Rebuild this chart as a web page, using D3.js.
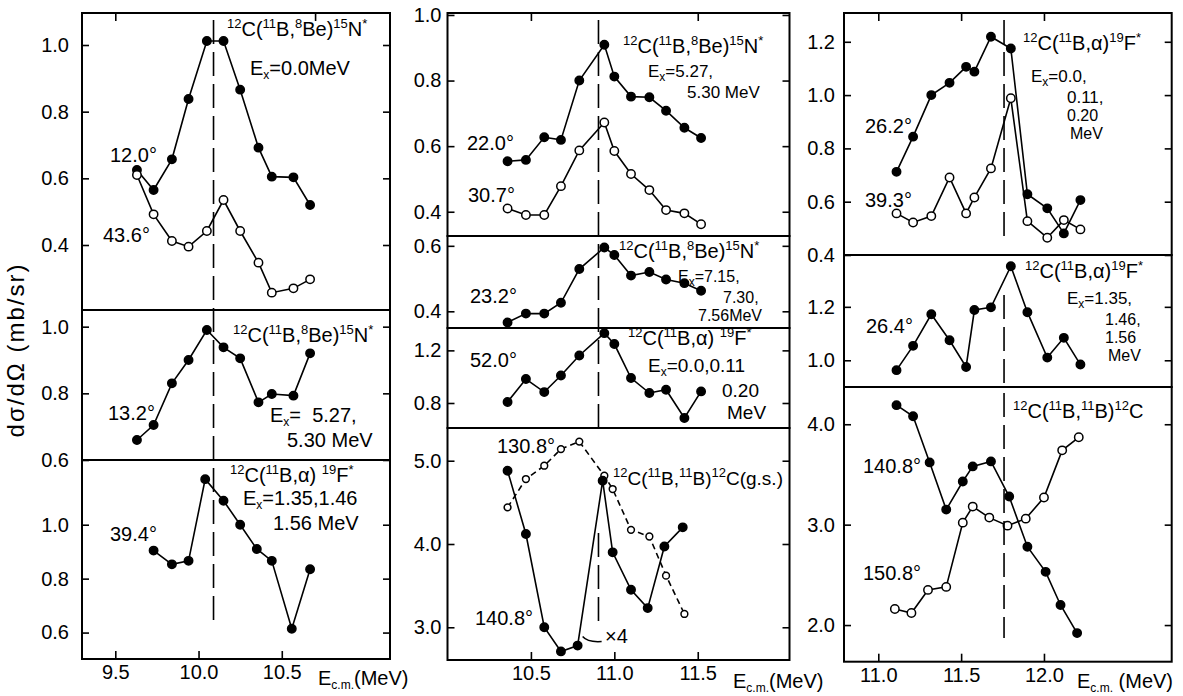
<!DOCTYPE html>
<html>
<head>
<meta charset="utf-8">
<script src="https://cdn.jsdelivr.net/npm/d3@7"></script>
<style>
  body { margin: 0; background: #fff; }
  text { font-family: "Liberation Sans", Arial, sans-serif; white-space: pre; fill: #000; }
</style>
</head>
<body>
<svg width="1183" height="696"></svg>
<script>
// ---- data (E c.m. in MeV, dsigma/dOmega in mb/sr) ----
var eLeft = [9.63, 9.73, 9.84, 9.94, 10.05, 10.15, 10.25, 10.36, 10.44, 10.57, 10.67];
var left12 = [0.625, 0.565, 0.657, 0.838, 1.012, 1.012, 0.866, 0.692, 0.605, 0.603, 0.52];
var left43 = [0.61, 0.492, 0.412, 0.395, 0.442, 0.535, 0.442, 0.347, 0.257, 0.27, 0.297];
var left13 = [0.66, 0.705, 0.83, 0.9, 0.99, 0.938, 0.905, 0.773, 0.798, 0.793, 0.92];
var eLeft3 = [9.73, 9.84, 9.94, 10.04, 10.15, 10.25, 10.35, 10.44, 10.56, 10.67];
var left39 = [0.904, 0.853, 0.866, 1.169, 1.089, 1.0, 0.91, 0.866, 0.614, 0.835];

var eMid = [10.36, 10.47, 10.58, 10.68, 10.79, 10.94, 11.0, 11.1, 11.21, 11.31, 11.42, 11.52];
var mid22 = [0.554, 0.558, 0.627, 0.619, 0.8, 0.909, 0.812, 0.751, 0.749, 0.708, 0.656, 0.625];
var mid30 = [0.41, 0.39, 0.39, 0.478, 0.587, 0.672, 0.585, 0.515, 0.466, 0.405, 0.395, 0.362];
var mid23 = [0.366, 0.393, 0.393, 0.426, 0.529, 0.595, 0.572, 0.509, 0.52, 0.497, 0.486, 0.463];
var mid52 = [0.808, 0.982, 0.883, 1.009, 1.161, 1.331, 1.248, 0.99, 0.876, 0.901, 0.686, 0.888];
var eMid140 = [10.36, 10.47, 10.58, 10.68, 10.78, 10.93, 10.99, 11.1, 11.2, 11.3, 11.41];
var mid140 = [4.88, 4.12, 3.0, 2.71, 2.78, 4.76, 3.9, 3.45, 3.23, 3.97, 4.2];
var eMid130 = [10.36, 10.47, 10.58, 10.68, 10.79, 10.94, 10.99, 11.1, 11.21, 11.31, 11.42];
var mid130 = [4.44, 4.78, 4.94, 5.14, 5.23, 4.82, 4.66, 4.17, 4.09, 3.62, 3.16];

var eRight = [11.11, 11.21, 11.32, 11.43, 11.53, 11.58, 11.68, 11.8, 11.9, 12.02, 12.12, 12.22];
var right26 = [0.712, 0.844, 1.0, 1.046, 1.106, 1.088, 1.219, 1.175, 0.628, 0.575, 0.481, 0.606];
var right39 = [0.556, 0.522, 0.546, 0.691, 0.556, 0.616, 0.725, 0.988, 0.527, 0.465, 0.531, 0.496];
var right26b = [0.963, 1.054, 1.172, 1.075, 0.975, 1.188, 1.198, 1.352, 1.18, 1.01, 1.084, 0.984];
var eRight140 = [11.11, 11.21, 11.31, 11.41, 11.51, 11.57, 11.68, 11.79, 11.9, 12.01, 12.1, 12.2];
var right140 = [4.19, 4.08, 3.62, 3.15, 3.43, 3.58, 3.63, 3.28, 2.78, 2.53, 2.2, 1.92];
var eRight150 = [11.1, 11.2, 11.3, 11.41, 11.51, 11.57, 11.67, 11.78, 11.89, 12.0, 12.11, 12.21];
var right150 = [2.16, 2.12, 2.35, 2.38, 3.02, 3.18, 3.07, 2.99, 3.06, 3.27, 3.74, 3.87];

// dashed marker energies
var markE = [10.09, 10.905, 11.759];

// ---- layout ----
var svg = d3.select("svg");

var cols = [
  {x0: 82, x1: 390, dom: [9.3, 11.15], bottom: [9.5, 10.0, 10.5], top: [9.5, 10.7], pad: 13,
   segs: [[20, 620]], unit: "E_{c.m.}(MeV)", ux: 318, uy: 685},
  {x0: 447.5, x1: 789.5, dom: [10.0, 12.05], bottom: [10.5, 11.0, 11.5], top: [10.5, 11.5], pad: 6,
   segs: [[20, 428], [533, 627]], unit: "E_{c.m.}(MeV)", ux: 733, uy: 688},
  {x0: 844, x1: 1171.7, dom: [10.793, 12.771], bottom: [11.0, 11.5, 12.0], top: [11.0, 11.5, 12.0], pad: 9,
   segs: [[20, 243], [295, 387], [393, 638]], unit: "E_{c.m.} (MeV)", ux: 1077, uy: 688}
];
cols.forEach(function(c) { c.x = d3.scaleLinear().domain(c.dom).range([c.x0, c.x1]); });

var panels = [
  {c: 0, y0: 13, y1: 310, dom: [0.205, 1.096], ticks: [0.4, 0.6, 0.8, 1.0], first: true,
   series: [[eLeft, left12, "filled"], [eLeft, left43, "open"]]},
  {c: 0, y0: 310, y1: 460, dom: [0.6, 1.05], ticks: [0.6, 0.8, 1.0],
   series: [[eLeft, left13, "filled"]]},
  {c: 0, y0: 460, y1: 659, dom: [0.502, 1.24], ticks: [0.6, 0.8, 1.0], last: true,
   series: [[eLeft3, left39, "filled"]]},

  {c: 1, y0: 13, y1: 236, dom: [0.326, 1.006], ticks: [0.4, 0.6, 0.8, 1.0], first: true,
   series: [[eMid, mid22, "filled"], [eMid, mid30, "open"]]},
  {c: 1, y0: 236, y1: 328, dom: [0.349, 0.63], ticks: [0.4, 0.6],
   series: [[eMid, mid23, "filled"]]},
  {c: 1, y0: 328, y1: 428, dom: [0.61, 1.37], ticks: [0.8, 1.2],
   series: [[eMid, mid52, "filled"]]},
  {c: 1, y0: 428, y1: 660, dom: [2.607, 5.393], ticks: [3.0, 4.0, 5.0], last: true, times4: true,
   series: [[eMid130, mid130, "openDash"], [eMid140, mid140, "filled"]]},

  {c: 2, y0: 13, y1: 255, dom: [0.4, 1.308], ticks: [0.4, 0.6, 0.8, 1.0, 1.2], first: true,
   series: [[eRight, right39, "open"], [eRight, right26, "filled"]]},
  {c: 2, y0: 255, y1: 387, dom: [0.9, 1.394], ticks: [1.0, 1.2],
   series: [[eRight, right26b, "filled"]]},
  {c: 2, y0: 387, y1: 661.7, dom: [1.635, 4.371], ticks: [2.0, 3.0, 4.0], last: true,
   series: [[eRight140, right140, "filled"], [eRight150, right150, "open"]]}
];

// text labels: ^{..} superscript, _{..} subscript; [x, baseline, text, font size]
var notes = [
  [227, 36, "^{12}C(^{11}B,^{8}Be)^{15}N^{*}"], [250, 75, "E_{x}=0.0MeV"],
  [110, 162, "12.0°"], [103, 242, "43.6°"],
  [233, 342, "^{12}C(^{11}B,^{8}Be)^{15}N^{*}"], [108, 420, "13.2°"],
  [270, 422, "E_{x}=  5.27,"], [287, 447, "5.30 MeV"],
  [230, 482, "^{12}C(^{11}B,α) ^{19}F^{*}"], [243, 505, "E_{x}=1.35,1.46"],
  [273, 530, "1.56 MeV"], [110, 541, "39.4°"],

  [623, 53, "^{12}C(^{11}B,^{8}Be)^{15}N^{*}"], [648, 77, "E_{x}=5.27,", 17], [687, 98, "5.30 MeV", 17],
  [467, 150, "22.0°"], [468, 202, "30.7°"],
  [619, 258, "^{12}C(^{11}B,^{8}Be)^{15}N^{*}"], [678, 282, "E_{x}=7.15,", 16],
  [723, 303, "7.30,", 16], [698, 321, "7.56MeV", 16], [470, 303, "23.2°"],
  [628, 345, "^{12}C(^{11}B,α) ^{19}F^{*}"], [648, 372, "E_{x}=0.0,0.11", 19],
  [722, 397, "0.20", 19], [727, 419, "MeV", 19], [470, 367, "52.0°"],
  [497, 453, "130.8°"], [613, 485, "^{12}C(^{11}B,^{11}B)^{12}C(g.s.)", 19],
  [475, 625, "140.8°"], [605, 643, "×4"],

  [1023, 50, "^{12}C(^{11}B,α)^{19}F^{*}"], [1031, 82, "E_{x}=0.0,", 17], [1067, 103, "0.11,", 17],
  [1067, 121, "0.20", 16], [1070, 139, "MeV", 16], [865, 133, "26.2°"], [865, 207, "39.3°"],
  [1025, 278, "^{12}C(^{11}B,α)^{19}F^{*}"], [1067, 304, "E_{x}=1.35,", 17], [1105, 325, "1.46,", 16],
  [1105, 343, "1.56", 16], [1108, 361, "MeV", 16], [866, 333, "26.4°"],
  [1013, 418, "^{12}C(^{11}B,^{11}B)^{12}C"], [863, 473, "140.8°"], [863, 580, "150.8°"]
];

function rich(sel, str) {
  var parts = str.split(/(\^\{[^}]*\}|_\{[^}]*\})/).filter(function(s) { return s.length; });
  var shift = 0;
  parts.forEach(function(p) {
    var t = p, s = 0, small = null;
    if (p[0] === "^") { t = p.slice(2, -1); s = -8; small = 13; }
    else if (p[0] === "_") { t = p.slice(2, -1); s = 4; small = 12; }
    sel.append("tspan").attr("dy", s - shift).attr("font-size", small).text(t);
    shift = s;
  });
}

var fmt = d3.format(".1f");

function styleAxis(a) {
  a.select(".domain").remove();
  a.selectAll(".tick line").attr("stroke", "#000").attr("stroke-width", 1.6);
  a.selectAll(".tick text").attr("font-size", 20)
    .attr("font-family", "Liberation Sans, Arial, sans-serif").attr("fill", "#000");
}

panels.forEach(function(p) {
  var c = cols[p.c];
  var x = c.x;
  var y = d3.scaleLinear().domain(p.dom).range([p.y1, p.y0]);
  var g = svg.append("g");

  g.append("g").attr("transform", "translate(" + c.x0 + ",0)")
    .call(d3.axisLeft(y).tickValues(p.ticks).tickSize(-7).tickPadding(c.pad).tickFormat(fmt))
    .call(styleAxis);
  g.append("g").attr("transform", "translate(" + c.x1 + ",0)")
    .call(d3.axisRight(y).tickValues(p.ticks).tickSize(-7).tickFormat(""))
    .call(styleAxis);

  if (p.first) {
    g.append("g").attr("transform", "translate(0," + p.y0 + ")")
      .call(d3.axisTop(x).tickValues(c.top).tickSize(-8).tickFormat(""))
      .call(styleAxis);
  }
  if (p.last) {
    g.append("g").attr("transform", "translate(0," + p.y1 + ")")
      .call(d3.axisBottom(x).tickValues(c.bottom).tickSize(-8).tickPadding(6).tickFormat(fmt))
      .call(styleAxis);
  }

  g.append("rect")
    .attr("x", c.x0).attr("y", p.y0)
    .attr("width", c.x1 - c.x0).attr("height", p.y1 - p.y0)
    .attr("fill", "none").attr("stroke", "#000").attr("stroke-width", 2);

  var line = d3.line()
    .x(function(d) { return x(d[0]); })
    .y(function(d) { return y(d[1]); });

  p.series.forEach(function(s) {
    var pts = s[0].map(function(e, k) { return [e, s[1][k]]; });
    g.append("path").datum(pts)
      .attr("d", line)
      .attr("fill", "none").attr("stroke", "#000").attr("stroke-width", 1.6)
      .attr("stroke-dasharray", s[2] === "openDash" ? "6,4" : null);
    g.selectAll(null).data(pts).enter().append("circle")
      .attr("cx", function(d) { return x(d[0]); })
      .attr("cy", function(d) { return y(d[1]); })
      .attr("r", s[2] === "openDash" ? 3.4 : 4.2)
      .attr("fill", s[2] === "filled" ? "#000" : "#fff")
      .attr("stroke", "#000").attr("stroke-width", 1.5);
  });

  if (p.times4) {
    // little leader from the 10.78 MeV point to the "x4" note
    var px = x(eMid140[4]), py = y(mid140[4]);
    g.append("path")
      .attr("d", "M" + (px + 5) + "," + (py - 9) + " Q" + (px + 10) + "," + (py - 3) + " " + (px + 24) + "," + (py - 4))
      .attr("fill", "none").attr("stroke", "#000").attr("stroke-width", 1.5);
  }
});

// vertical dashed markers
cols.forEach(function(c, i) {
  c.segs.forEach(function(sg) {
    svg.append("line")
      .attr("x1", c.x(markE[i])).attr("x2", c.x(markE[i]))
      .attr("y1", sg[0]).attr("y2", sg[1])
      .attr("stroke", "#000").attr("stroke-width", 1.6)
      .attr("stroke-dasharray", "24,8");
  });
  svg.append("text").attr("x", c.ux).attr("y", c.uy).attr("font-size", 20)
    .call(rich, c.unit);
});

notes.forEach(function(n) {
  svg.append("text").attr("x", n[0]).attr("y", n[1]).attr("font-size", n[3] || 20).call(rich, n[2]);
});

svg.append("text")
  .attr("transform", "translate(24,350) rotate(-90)")
  .attr("text-anchor", "middle").attr("font-size", 24)
  .attr("letter-spacing", 2)
  .text("dσ/dΩ (mb/sr)");
</script>
</body>
</html>
